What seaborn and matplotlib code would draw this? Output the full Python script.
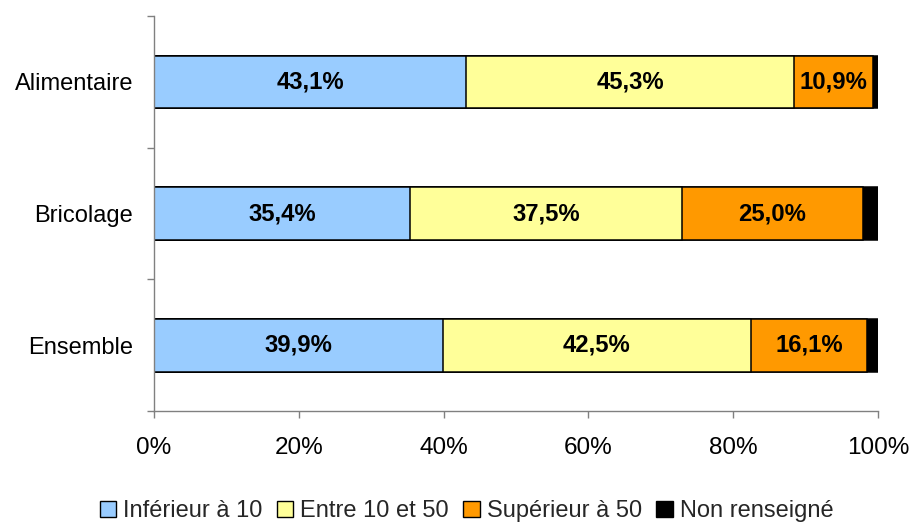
import numpy as np
import pandas as pd
import matplotlib
matplotlib.use("Agg")
import matplotlib.pyplot as plt
import seaborn as sns
from matplotlib.patches import Patch

categories = ["Alimentaire", "Bricolage", "Ensemble"]
series_names = ["Inférieur à 10", "Entre 10 et 50", "Supérieur à 50", "Non renseigné"]
inferieur_10 = [43.1, 35.4, 39.9]
entre_10_50 = [45.3, 37.5, 42.5]
superieur_50 = [10.9, 25.0, 16.1]
non_renseigne = [0.7, 2.1, 1.5]
x_ticks = [0, 20, 40, 60, 80, 100]
x_tick_labels = ["0%", "20%", "40%", "60%", "80%", "100%"]

colors = ["#99CCFF", "#FFFF99", "#FF9900", "#000000"]

sns.set_theme(style="white")
plt.rcParams["font.family"] = ["Liberation Sans", "DejaVu Sans"]

series = [inferieur_10, entre_10_50, superieur_50, non_renseigne]
cum = np.cumsum(np.array(series), axis=0)

fig = plt.figure(figsize=(9.13, 5.25), dpi=100)
ax = fig.add_axes([0.1687, 0.2171, 0.9617 - 0.1687, 0.9695 - 0.2171])

# Stacked bars: draw cumulative totals from the outermost segment inward
for i in reversed(range(len(series))):
    df = pd.DataFrame({"cat": categories, "val": cum[i]})
    sns.barplot(data=df, x="val", y="cat", orient="h", color=colors[i],
                saturation=1, width=0.4, edgecolor="black", linewidth=1.1,
                ax=ax)

# Value labels centred in each segment (not the "Non renseigné" sliver)
for i in range(3):
    for j, cat in enumerate(categories):
        left = cum[i - 1][j] if i > 0 else 0.0
        val = series[i][j]
        ax.text(left + val / 2, j, f"{val:.1f}%".replace(".", ","),
                ha="center", va="center", fontsize=17.2, fontweight="bold",
                color="black")

ax.set_xlim(0, 100)
ax.set_ylim(2.5, -0.5)
ax.set_xticks(x_ticks)
ax.set_xticklabels(x_tick_labels)
ax.set_yticks([-0.5, 0.5, 1.5, 2.5])
ax.set_yticklabels([])
ax.set_yticks(range(len(categories)), minor=True)
ax.set_yticklabels(categories, minor=True)
ax.set_xlabel("")
ax.set_ylabel("")

for side in ["top", "right"]:
    ax.spines[side].set_visible(False)
for side in ["left", "bottom"]:
    ax.spines[side].set_color("#808080")
    ax.spines[side].set_linewidth(1.0)

ax.tick_params(axis="x", which="major", direction="out", length=5, width=1,
               color="#808080", pad=14, labelsize=17.5, labelcolor="black",
               bottom=True)
ax.tick_params(axis="y", which="major", direction="out", length=5, width=1,
               color="#808080", left=True)
ax.tick_params(axis="y", which="minor", length=0, pad=15, labelsize=17,
               labelcolor="black", left=True)

handles = [Patch(facecolor=c, edgecolor="black", linewidth=1.0) for c in colors]
fig.legend(handles, series_names, loc="center", bbox_to_anchor=(0.511, 0.026),
           ncol=4, frameon=False,
           prop={"family": "Liberation Sans", "size": 17},
           handlelength=0.7, handleheight=0.7, handletextpad=0.3,
           columnspacing=0.6)

fig.savefig("out.png", dpi=100)
